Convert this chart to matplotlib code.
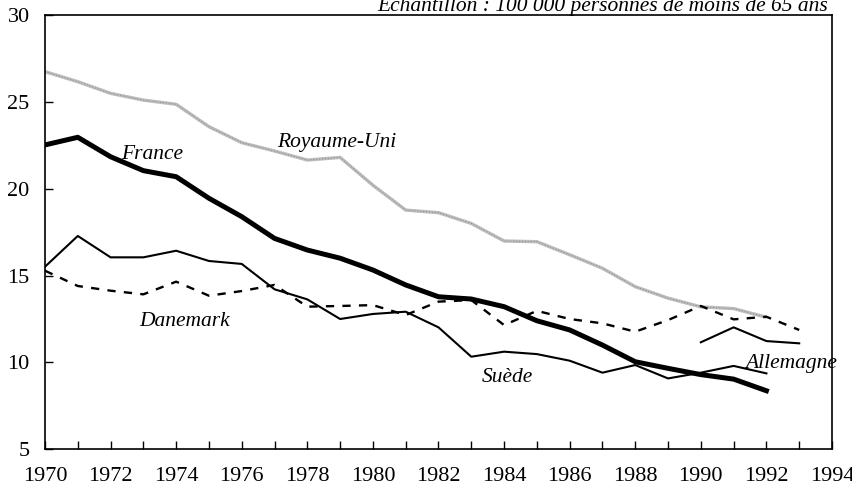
import numpy as np
import matplotlib
matplotlib.use("Agg")
from matplotlib import pyplot as plt

plt.rcParams['font.family'] = ['Liberation Serif', 'DejaVu Serif']

# data
years = list(range(1970, 1994))
royaume_uni = [26.74, 26.16, 25.49, 25.1, 24.86, 23.57, 22.65, 22.17, 21.65, 21.8,
               20.2, 18.77, 18.62, 18.0, 16.99, 16.95, 16.2, 15.42, 14.36, 13.7,
               13.2, 13.1, 12.6]
france = [22.52, 22.96, 21.84, 21.04, 20.69, 19.45, 18.39, 17.14, 16.47, 16.0,
          15.32, 14.46, 13.78, 13.65, 13.21, 12.4, 11.87, 11.0, 10.04, 9.66,
          9.3, 9.04, 8.37]
suede = [15.51, 17.28, 16.05, 16.05, 16.43, 15.84, 15.67, 14.21, 13.63, 12.5,
         12.79, 12.92, 12.02, 10.33, 10.62, 10.48, 10.1, 9.41, 9.85, 9.08,
         9.41, 9.8, 9.37]
danemark = [15.28, 14.4, 14.13, 13.92, 14.65, 13.84, 14.11, 14.46, 13.21, 13.25,
            13.3, 12.73, 13.5, 13.59, 12.15, 12.97, 12.5, 12.25, 11.77, 12.44,
            13.25, 12.48, 12.63, 11.87]
allemagne_years = [1990, 1991, 1992, 1993]
allemagne = [11.16, 12.02, 11.23, 11.1]

labels = {
    'France': (1973.28, 21.71),
    'Royaume-Uni': (1978.9, 22.38),
    'Danemark': (1974.26, 12.10),
    'Suède': (1984.09, 8.89),
    'Allemagne': (1992.76, 9.66),
}

fig = plt.figure(figsize=(8.53, 4.88), dpi=100)
ax = fig.add_axes([0.05275, 0.0793, 0.97538 - 0.05275, 0.9693 - 0.0793])

ax.plot(years[:len(royaume_uni)], royaume_uni, color='#bcbcbc', lw=2.4, solid_capstyle='butt')
ax.plot(years[:len(royaume_uni)], royaume_uni, color='#8a8a8a', lw=0.7, ls=(0, (1, 2)))
ax.plot(years[:len(danemark)], danemark, color='black', lw=1.7, dashes=(3.5, 3.5))
ax.plot(years[:len(suede)], suede, color='black', lw=1.5)
ax.plot(allemagne_years, allemagne, color='black', lw=1.5)
ax.plot(years[:len(france)], france, color='black', lw=3.6)

for name, (x, y) in labels.items():
    ax.text(x, y, name, ha='center', va='baseline', fontsize=15.5, style='italic')

# note at the top, partly cut in the original
fig.text(828 / 853, 1 - 11 / 488, 'Echantillon : 100 000 personnes de moins de 65 ans',
         ha='right', va='baseline', fontsize=15.5, style='italic')

ax.set_xlim(1970, 1994)
ax.set_ylim(5, 30)
ax.set_xticks(range(1970, 1995, 2))
ax.set_xticks(range(1970, 1995), minor=True)
ax.set_yticks(range(5, 31, 5))
ax.tick_params(axis='both', which='both', direction='in', length=6, width=1,
               labelsize=16, colors='black')
ax.tick_params(axis='x', pad=13)
ax.tick_params(axis='y', pad=11)
for s in ax.spines.values():
    s.set_linewidth(1.2)

fig.savefig('out.png', dpi=100)
